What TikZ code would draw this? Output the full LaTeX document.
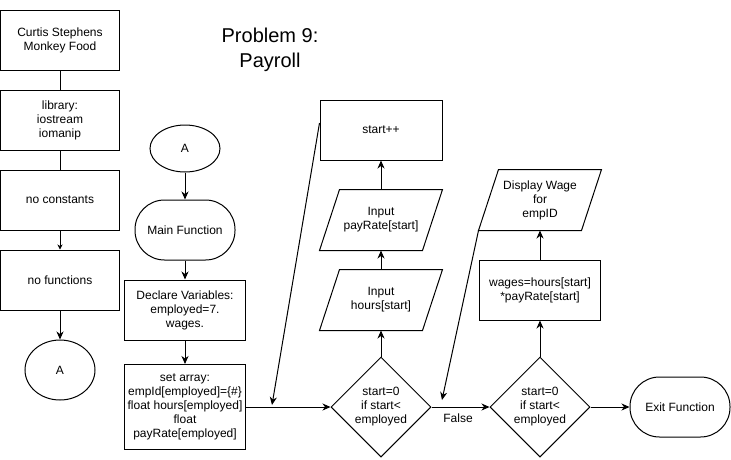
\documentclass[tikz,border=0pt]{standalone}
\usepackage{fontspec}
\setmainfont{Liberation Sans}
\usetikzlibrary{shapes.geometric,arrows.meta}
\newcommand\mypgram[1]{\draw ([xshift=-10pt]#1.south west) -- ([xshift=10pt]#1.north west) -- ([xshift=10pt]#1.north east) -- ([xshift=-10pt]#1.south east) -- cycle;}
\begin{document}
\begin{tikzpicture}[x=1pt,y=-1pt,
  font=\fontsize{12}{14}\selectfont, line width=1pt,
  box/.style={draw, rectangle, align=center, inner sep=2pt},
  term/.style={draw, rectangle, rounded corners=29.5pt, minimum width=100pt, minimum height=60pt, align=center},
  conn/.style={draw, ellipse, inner sep=0pt},
  dec/.style={draw, diamond, aspect=1, minimum width=100pt, minimum height=100pt, inner sep=0pt, align=center},
  para/.style={rectangle, align=center, minimum width=102pt, minimum height=60pt, inner sep=0pt},
  arr/.style={-{Stealth[length=8pt,width=7pt,inset=2.5pt]}},
  arrsmall/.style={-{Stealth[length=5pt,width=5pt,inset=1.5pt]}}]
\useasboundingbox (0,0) rectangle (731,459);
% left column
\node[box, minimum width=119pt, minimum height=60pt] (b1) at (60,40) {Curtis Stephens\\Monkey Food};
\node[box, minimum width=119pt, minimum height=60pt] (b2) at (60,120) {library:\\iostream\\iomanip};
\node[box, minimum width=119pt, minimum height=60pt] (b3) at (60,200) {no constants};
\node[box, minimum width=119pt, minimum height=60pt] (b4) at (60,280) {no functions};
\node[conn, minimum width=70pt, minimum height=60pt] (a1) at (60,370) {A};
% title
\node[font=\fontsize{20}{25}\selectfont, align=center] (title) at (270,50) {Problem 9:\\Payroll};
% main column
\node[conn, minimum width=70pt, minimum height=47pt] (a2) at (185,148.5) {A};
\node[term] (mf) at (185,230) {Main Function};
\node[box, minimum width=121pt, minimum height=60pt] (dv) at (185,310) {Declare Variables:\\employed=7.\\wages.};
\node[box, minimum width=121pt, minimum height=85pt] (sa) at (185,407) {set array:\\empId[employed]=\{\#\}\\float hours[employed]\\float\\payRate[employed]};
% loop 1
\node[dec] (d1) at (381,407) {start=0\\if start<\\employed};
\node[para] (ih) at (381,300) {Input\\hours[start]};
\node[para] (ip) at (381,220) {Input\\payRate[start]};
\node[box, minimum width=122pt, minimum height=60pt] (sp) at (381,130) {start++};
% loop 2
\node[dec] (d2) at (540,407) {start=0\\if start<\\employed};
\node[box, minimum width=121pt, minimum height=60pt] (wg) at (540,290) {wages=hours[start]\\*payRate[start]};
\node[para] (dw) at (540,200) {Display Wage\\for\\empID};
\node[term] (ex) at (680,407) {Exit Function};
\node (fl) at (458,418) {False};
\mypgram{ih}
\mypgram{ip}
\mypgram{dw}
% connectors
\draw (b1) -- (b2);
\draw (b2) -- (b3);
\draw[arrsmall] (b3) -- (b4);
\draw[arr] (b4) -- (a1);
\draw[arr] (a2) -- (mf);
\draw[arr] (mf) -- (dv);
\draw[arr] (dv) -- (sa);
\draw[arr] (sa) -- (d1);
\draw[arr] (d1) -- (ih);
\draw[arr] (ih) -- (ip);
\draw[arr] (ip) -- (sp);
\coordinate (t1) at (272,405);
\draw[arr] ([yshift=7pt]sp.west) -- (t1);
\draw[arr] (d1) -- (d2);
\draw[arr] (d2) -- (wg);
\draw[arr] (wg) -- (dw);
\coordinate (t2) at (442,400);
\draw[arr] ([xshift=-10pt]dw.south west) -- (t2);
\draw[arr] (d2) -- (ex);
\end{tikzpicture}
\end{document}
